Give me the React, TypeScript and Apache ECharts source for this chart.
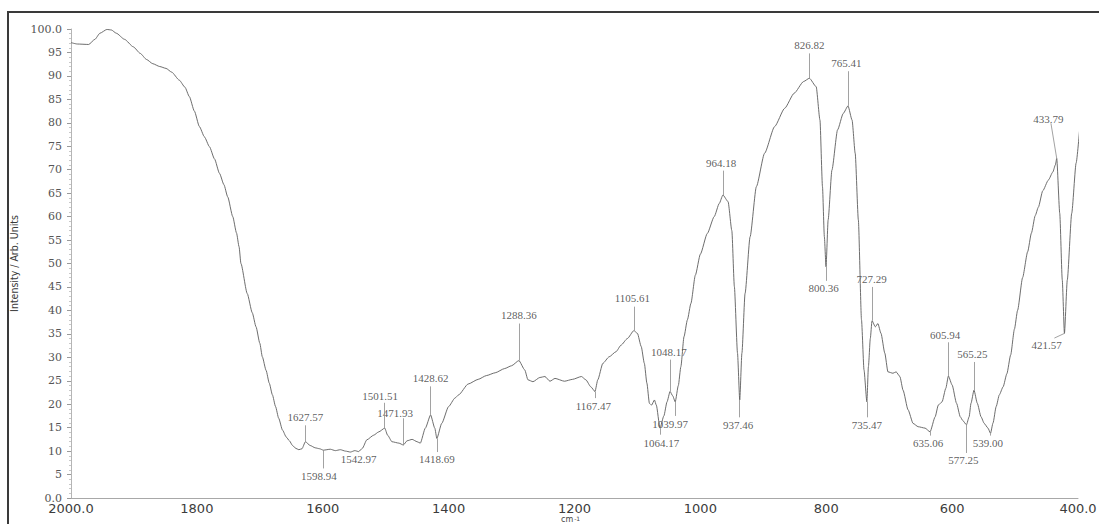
import React, { useEffect, useRef } from "react";
import * as echarts from "echarts";

// Spectrum trace: wavenumber (cm-1) and intensity (arb. units)
const wavenumbers = [
  2000, 1990, 1972, 1962, 1954, 1943, 1936, 1928, 1915, 1901, 1890, 1880, 1870, 1859, 1849, 1840,
  1828, 1819, 1812, 1804, 1796, 1788, 1780, 1772, 1764, 1757, 1751, 1743, 1737, 1733, 1730, 1720,
  1712, 1706, 1700, 1696, 1690, 1685, 1680, 1675, 1670, 1664, 1658, 1653, 1648, 1643, 1638, 1633,
  1627.57, 1620, 1612, 1605, 1598.94, 1588, 1580, 1572, 1564, 1556, 1549, 1542.97, 1537, 1530, 1519,
  1511, 1501.51, 1497, 1490, 1479, 1471.93, 1466, 1458, 1450, 1445, 1437, 1428.62, 1422, 1418.69,
  1411, 1400, 1390, 1384, 1369, 1353, 1340, 1326, 1311, 1300, 1288.36, 1279, 1274, 1266, 1255, 1247,
  1239, 1231, 1216, 1203, 1189, 1182, 1174, 1167.47, 1163, 1155, 1145, 1134, 1126, 1116, 1105.61,
  1100, 1094, 1089, 1085, 1081, 1077.5, 1073, 1070, 1064.17, 1058, 1053, 1048.17, 1044, 1039.97,
  1035, 1031, 1026, 1020.6, 1015, 1008, 1000, 989, 978, 970, 964.18, 956, 950, 946, 941, 937.46, 934,
  929, 921, 911, 898, 882, 866, 851, 836, 826.82, 816, 810, 806, 803, 800.36, 797, 791, 782, 773,
  765.41, 759, 754, 749, 744, 740, 735.47, 733, 730, 727.29, 722, 718, 713, 707, 702, 694, 689, 683,
  678, 670, 662, 654, 643, 635.06, 627, 622, 616, 610, 605.94, 600, 593, 587, 583, 577.25, 573, 570,
  565.25, 560, 554, 549, 543, 539, 535, 530, 525, 519, 513, 507, 501, 496, 488, 480, 474, 468, 463,
  456, 447, 440, 436, 433.79, 429, 425, 421.57, 417, 410, 403, 397,
];

const intensity = [
  97.1, 96.8, 96.7, 97.8, 99.1, 99.9, 99.8, 99.1, 97.8, 96.2, 94.8, 93.5, 92.6, 92.0, 91.6, 90.8,
  89.1, 87.6, 85.6, 82.5, 79.2, 77.0, 74.9, 72.3, 69.2, 66.8, 64.2, 60.0, 56.5, 53.6, 50.0, 43.6,
  39.5, 36.5, 33.0, 30.1, 27.2, 24.5, 22.0, 19.5, 17.0, 14.5, 13.0, 12.2, 11.2, 10.6, 10.3, 10.5,
  12.0, 11.2, 10.7, 10.5, 10.2, 10.4, 10.1, 10.3, 10.0, 9.8, 10.1, 9.9, 10.6, 12.4, 13.4,
  14.1, 14.9, 13.4, 12.0, 11.7, 11.3, 12.2, 12.5, 12.0, 11.7, 14.9, 17.7, 14.9, 12.7,
  15.9, 19.5, 21.3, 22.0, 24.3, 25.3, 26.1, 26.7, 27.6, 28.2, 29.3, 27.3, 25.2, 24.8, 25.7, 25.9,
  24.9, 25.5, 24.9, 25.3, 25.9, 25.2, 23.7, 22.7, 25.2, 28.7, 30.1, 31.2, 32.6, 34.0, 35.7,
  35.1, 32.3, 28.7, 24.5, 20.2, 19.8, 20.9, 19.8, 14.9, 17.5, 20.5, 22.7, 21.8, 20.5,
  24.0, 28.0, 34.4, 38.0, 41.5, 47.5, 52.0, 56.4, 60.0, 62.8, 64.6, 63.2, 57.0, 45.1, 30.9, 20.9, 30.9,
  43.6, 55.7, 66.4, 73.5, 79.2, 83.1, 86.3, 88.8, 89.5, 87.7, 80.6, 66.4, 55.7, 49.3, 59.3, 69.9, 78.5, 82.0,
  83.6, 80.6, 73.5, 59.3, 38.0, 27.3, 20.5, 28.0, 34.0, 37.8, 36.5, 37.2, 35.1, 30.9, 26.9, 26.6, 26.9, 25.9,
  23.0, 18.8, 15.9, 15.2, 14.9, 14.1, 17.3, 19.8, 20.5, 23.4, 26.0, 24.1, 20.2, 17.3, 16.5, 15.6, 17.3, 20.2,
  23.0, 20.2, 17.3, 15.9, 14.9, 13.8, 16.0, 19.5, 22.0, 23.7, 26.5, 30.5, 36.0, 40.0, 47.0, 52.5, 56.5, 60.2, 62.0,
  65.5, 67.8, 69.5, 71.0, 72.4, 60.7, 46.5, 35.1, 46.5, 60.7, 71.4, 79.2,
];

// Annotated band positions (cm-1) and where their leader lines / labels sit
const peakPositions = [
  1627.57, 1598.94, 1542.97, 1501.51, 1471.93, 1428.62, 1418.69, 1288.36, 1167.47, 1105.61,
  1064.17, 1048.17, 1039.97, 964.18, 937.46, 826.82, 800.36, 765.41, 735.47, 727.29, 635.06,
  605.94, 577.25, 565.25, 539.0, 433.79, 421.57,
];
const peakIntensity = [
  12.0, 10.2, 9.9, 14.9, 11.3, 17.7, 12.7, 29.3, 22.7, 35.7, 14.9, 22.7, 20.5, 64.6, 20.9, 89.5,
  49.3, 83.6, 20.5, 37.8, 14.1, 26.0, 15.6, 23.0, 13.8, 72.4, 35.1,
];
const leaderEndX = [
  1627.57, 1598.94, 1542.97, 1501.51, 1471.93, 1428.62, 1418.69, 1288.36, 1167.47, 1105.61,
  1064.17, 1048.17, 1039.97, 964.18, 937.46, 826.82, 800.36, 765.41, 735.47, 727.29, 635.06,
  605.94, 577.25, 565.25, 539.0, 443, 437.5,
];
const leaderEndY = [
  15.5, 6.3, 9.9, 20.3, 17.0, 23.8, 9.8, 37.2, 21.3, 40.8, 13.5, 29.5, 17.5, 69.8, 17.2, 94.8,
  46.3, 91.0, 17.2, 45.0, 13.3, 33.2, 9.6, 29.0, 13.3, 79.9, 34.1,
];
const labelX = [
  1627.57, 1606, 1542.97, 1509, 1485, 1428.62, 1418.69, 1288.36, 1170, 1108, 1062, 1050, 1048,
  967, 940, 826.82, 804, 768, 735.47, 728, 638, 611, 582, 568, 543, 447, 450,
];
const labelY = [
  17.2, 4.7, 8.3, 21.8, 18.2, 25.5, 8.3, 39.0, 19.6, 42.6, 11.8, 31.2, 15.8, 71.5, 15.6, 96.6,
  44.7, 92.7, 15.6, 46.6, 11.7, 34.8, 8.0, 30.7, 11.7, 80.9, 32.6,
];

const xTicks = [2000, 1800, 1600, 1400, 1200, 1000, 800, 600, 400];
const yTicks = [0, 5, 10, 15, 20, 25, 30, 35, 40, 45, 50, 55, 60, 65, 70, 75, 80, 85, 90, 95, 100];

export default function App() {
  const ref = useRef<HTMLDivElement>(null);

  useEffect(() => {
    if (!ref.current) return;
    const chart = echarts.init(ref.current, undefined, { renderer: "svg" });

    const spectrum = wavenumbers.map((w, i) => [w, intensity[i]]);
    const leaders = peakPositions
      .map((w, i) => ({ i, w }))
      .filter(({ i, w }) => !(leaderEndX[i] === w && leaderEndY[i] === peakIntensity[i]))
      .map(({ i, w }) => [
        { coord: [w, peakIntensity[i]] },
        { coord: [leaderEndX[i], leaderEndY[i]] },
      ]);
    const labels = peakPositions.map((w, i) => ({
      value: [labelX[i], labelY[i]],
      name: w.toFixed(2),
    }));

    chart.setOption({
      animation: false,
      backgroundColor: "#ffffff",
      grid: {
        left: 71,
        top: 29,
        width: 1007,
        height: 469,
        containLabel: false,
        outerBoundsMode: "none",
      },
      graphic: [
        {
          type: "rect",
          shape: { x: 8, y: 12, width: 1200, height: 600 },
          style: { fill: "none", stroke: "#3a3a3a", lineWidth: 2 },
          silent: true,
        },
        {
          // x-axis unit, tucked under the 1200 tick label
          type: "text",
          x: 561,
          y: 515,
          silent: true,
          style: {
            text: "{m|cm}{s|-1}",
            verticalAlign: "top",
            align: "left",
            rich: {
              m: { fontFamily: "DejaVu Sans", fontSize: 8, lineHeight: 8, fill: "#444" },
              s: {
                fontFamily: "DejaVu Sans",
                fontSize: 6,
                lineHeight: 5,
                verticalAlign: "top",
                fill: "#444",
                padding: [0, 0, 0, 1],
              },
            },
          },
        },
      ],
      xAxis: {
        type: "value",
        min: 400,
        max: 2000,
        interval: 200,
        inverse: true,
        axisLine: { show: true, lineStyle: { color: "#a8a8a8", width: 1 } },
        axisTick: { show: false },
        splitLine: { show: false },
        axisLabel: {
          margin: 5,
          lineHeight: 11,
          fontFamily: "DejaVu Sans",
          fontSize: 13,
          color: "#3c3c3c",
          showMinLabel: true,
          showMaxLabel: true,
          customValues: xTicks,
          formatter: (v: number) => (v === 2000 || v === 400 ? v.toFixed(1) : String(v)),
        },
      },
      yAxis: {
        type: "value",
        min: 0,
        max: 100,
        interval: 5,
        name: "Intensity / Arb. Units",
        nameLocation: "middle",
        nameRotate: 90,
        nameGap: 45,
        nameTextStyle: {
          fontFamily: "'Liberation Sans Narrow', 'DejaVu Sans Condensed', sans-serif",
          fontSize: 10.5,
          color: "#3a3a3a",
        },
        axisLine: { show: true, lineStyle: { color: "#b5b5b5", width: 1 } },
        axisTick: { show: true, length: 4, lineStyle: { color: "#9a9a9a" } },
        minorTick: { show: true, splitNumber: 5, length: 2, lineStyle: { color: "#c8c8c8" } },
        splitLine: { show: false },
        axisLabel: {
          margin: 9,
          lineHeight: 8,
          fontFamily: "'DejaVu Serif', serif",
          fontSize: 11,
          color: "#555",
          customValues: yTicks,
          formatter: (v: number) => (v === 0 || v === 100 ? v.toFixed(1) : String(v)),
        },
      },
      series: [
        {
          type: "line",
          data: spectrum,
          showSymbol: false,
          symbol: "none",
          clip: false,
          smooth: 0.2,
          smoothMonotone: "x",
          lineStyle: { color: "#5c5c5c", width: 0.9 },
          silent: true,
        },
        {
          type: "scatter",
          data: labels,
          symbolSize: 0,
          silent: true,
          itemStyle: { color: "#333" },
          label: {
            show: true,
            position: "inside",
            formatter: (p: any) => p.name,
            fontFamily: "'Liberation Serif', 'DejaVu Serif', serif",
            fontSize: 11,
            color: "#333",
            textBorderWidth: 0,
          },
          markLine: {
            silent: true,
            symbol: ["none", "none"],
            label: { show: false },
            lineStyle: { color: "#8a8a8a", width: 0.8, type: "solid" },
            data: leaders,
          },
        },
      ],
    });

    return () => chart.dispose();
  }, []);

  return (
    <div
      ref={ref}
      style={{ position: "fixed", left: 0, top: 0, width: 1099, height: 524, background: "#fff" }}
    />
  );
}
